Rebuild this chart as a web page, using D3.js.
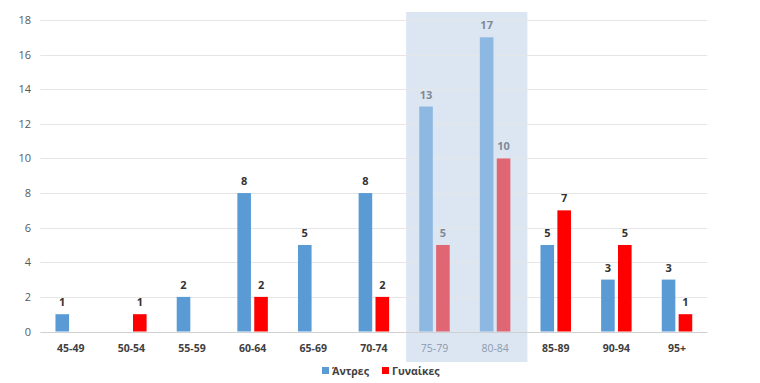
<!DOCTYPE html>
<html>
<head>
<meta charset="utf-8">
<script src="https://cdn.jsdelivr.net/npm/d3@7"></script>
<style>
  body { margin: 0; background: #fff; }
  svg { font-family: "Open Sans", "Noto Sans", sans-serif; }
</style>
</head>
<body>
<svg id="canvas"></svg>
<script>
const categories = ["45-49","50-54","55-59","60-64","65-69","70-74","75-79","80-84","85-89","90-94","95+"];
const men   = [1, 0, 2, 8, 5, 8, 13, 17, 5, 3, 3];
const women = [0, 1, 0, 2, 0, 2, 5, 10, 7, 5, 1];
const highlighted = ["75-79", "80-84"];
const yTicks = [0, 2, 4, 6, 8, 10, 12, 14, 16, 18];
const seriesNames = ["Άντρες", "Γυναίκες"];

const width = 760;
const height = 383;
const plotLeft = 40.4, plotRight = 707.3, plotTop = 20, plotBottom = 331.5;

const canvas = d3.select('#canvas').attr('width', width).attr('height', height);

const xScale = d3.scaleBand().domain(categories).range([plotLeft, plotRight]);
const yScale = d3.scaleLinear().domain([0, 18]).range([plotBottom, plotTop]);

// highlight box behind the two bands
const hl0 = xScale(highlighted[0]);
const hl1 = xScale(highlighted[1]) + xScale.bandwidth();
canvas.append('rect')
  .attr('x', hl0 + 2).attr('y', 12)
  .attr('width', hl1 - hl0).attr('height', 350)
  .attr('fill', '#dce6f2');

// grid
canvas.append('g').selectAll('line')
  .data(yTicks.filter(t => t > 0))
  .enter().append('line')
  .attr('x1', plotLeft).attr('x2', plotRight)
  .attr('y1', t => Math.round(yScale(t)) + 0.5)
  .attr('y2', t => Math.round(yScale(t)) + 0.5)
  .attr('stroke', '#e6e6e6');

canvas.append('line')
  .attr('x1', plotLeft).attr('x2', plotRight)
  .attr('y1', Math.round(yScale(0)) + 0.5).attr('y2', Math.round(yScale(0)) + 0.5)
  .attr('stroke', '#d0d0d0');

// y labels
canvas.append('g').selectAll('text')
  .data(yTicks).enter().append('text')
  .attr('x', 31).attr('y', t => yScale(t) + 4)
  .attr('text-anchor', 'end')
  .attr('font-size', 11).attr('fill', '#595959')
  .text(t => t);

// x labels
canvas.append('g').selectAll('text')
  .data(categories).enter().append('text')
  .attr('x', c => xScale(c) + xScale.bandwidth() / 2)
  .attr('y', 351.5)
  .attr('text-anchor', 'middle')
  .attr('font-size', 10.5)
  .attr('font-weight', c => highlighted.includes(c) ? 'normal' : 'bold')
  .attr('fill', c => highlighted.includes(c) ? '#8c9bb0' : '#404040')
  .text(c => c);

const barW = 13.6;
const gap = 3.3;
const series = [
  { name: seriesNames[0], values: men, color: '#5b9bd5', light: '#8db8e2', offset: -gap / 2 - barW },
  { name: seriesNames[1], values: women, color: '#ff0000', light: '#e06673', offset: gap / 2 }
];

series.forEach(s => {
  const g = canvas.append('g');
  const data = categories.map((c, i) => ({ c, v: s.values[i] })).filter(d => d.v > 0);
  g.selectAll('rect').data(data).enter().append('rect')
    .attr('x', d => xScale(d.c) + xScale.bandwidth() / 2 + s.offset)
    .attr('y', d => yScale(d.v))
    .attr('width', barW)
    .attr('height', d => yScale(0) - yScale(d.v))
    .attr('fill', d => highlighted.includes(d.c) ? s.light : s.color);
  g.selectAll('text').data(data).enter().append('text')
    .attr('x', d => xScale(d.c) + xScale.bandwidth() / 2 + s.offset + barW / 2)
    .attr('y', d => yScale(d.v) - 8)
    .attr('text-anchor', 'middle')
    .attr('font-size', 11)
    .attr('font-weight', 'bold')
    .attr('fill', d => highlighted.includes(d.c) ? '#7f8a99' : '#333')
    .text(d => d.v);
});

// legend
const legend = canvas.append('g').attr('transform', 'translate(322, 367)');
const legendX = [0, 60];
series.forEach((s, i) => {
  legend.append('rect').attr('x', legendX[i]).attr('y', 0).attr('width', 7).attr('height', 7).attr('fill', s.color);
  legend.append('text').attr('x', legendX[i] + 10).attr('y', 7.5)
    .attr('font-size', 10.5).attr('font-weight', 'bold').attr('fill', '#404040')
    .text(s.name);
});
</script>
</body>
</html>
